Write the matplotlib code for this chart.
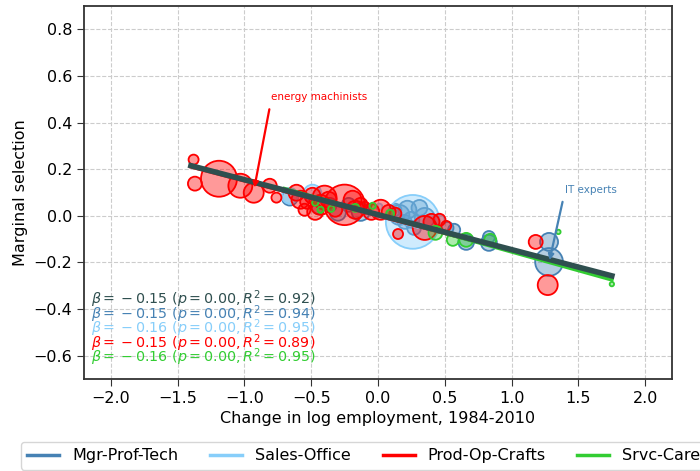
import matplotlib
matplotlib.use("Agg")
import matplotlib.pyplot as plt
import numpy as np

# occupation groups: change in log employment (x), marginal selection (y), size
groups = ['Mgr-Prof-Tech', 'Sales-Office', 'Prod-Op-Crafts', 'Srvc-Care']
colors = ['steelblue', 'lightskyblue', 'red', 'limegreen']

mgr_x = [-0.66, -0.45, -0.36, -0.30, -0.22, -0.13, 0.16, 0.22, 0.25, 0.31, 0.35,
         0.27, 0.20, 0.13, 0.52, 0.57, 0.66, 0.83, 0.83, 1.28, 1.28]
mgr_y = [0.078, 0.034, 0.047, 0.013, 0.047, 0.017, 0.004, 0.026, -0.017, 0.034,
         -0.009, -0.052, -0.026, 0.026, -0.052, -0.060, -0.112, -0.091, -0.116,
         -0.112, -0.198]
mgr_s = [130, 75, 100, 130, 100, 168, 207, 168, 130, 130, 207, 100, 100, 75,
         75, 75, 130, 75, 132, 168, 400]

sales_x = [-0.66, -0.49, 0.01, 0.26, 0.46]
sales_y = [0.086, 0.095, 0.039, -0.026, -0.017]
sales_s = [130, 168, 20, 1500, 52]

prod_x = [-1.38, -1.37, -1.19, -1.03, -0.93, -0.81, -0.76, -0.61, -0.58, -0.53,
          -0.49, -0.43, -0.37, -0.32, -0.25, -0.17, -0.13, -0.10, -0.05, 0.02,
          0.08, 0.13, 0.15, 0.35, 0.40, 0.46, 0.51, 1.18, 1.27, -0.55, -0.47,
          -0.40, -0.19]
prod_y = [0.241, 0.138, 0.159, 0.129, 0.099, 0.129, 0.078, 0.099, 0.069, 0.060,
          0.086, 0.047, 0.069, 0.026, 0.047, 0.026, 0.047, 0.034, 0.017, 0.026,
          0.017, 0.009, -0.078, -0.052, -0.026, -0.017, -0.043, -0.112, -0.297,
          0.026, 0.017, 0.078, 0.069]
prod_s = [52, 101, 671, 298, 207, 101, 52, 132, 168, 101, 132, 207, 132, 101,
          850, 168, 101, 75, 132, 207, 101, 75, 52, 298, 132, 75, 52, 101, 207,
          75, 132, 298, 168]

srvc_x = [-0.43, -0.35, -0.47, -0.17, -0.04, 0.09, 0.43, 0.56, 0.66, 0.84, 1.35,
          1.75]
srvc_y = [0.026, 0.030, 0.056, 0.034, 0.043, 0.009, -0.073, -0.103, -0.103,
          -0.103, -0.069, -0.293]
srvc_s = [20, 20, 20, 33, 20, 33, 100, 75, 100, 75, 10, 10]

# regression fits (slope, intercept, x range)
fit_slope = [-0.15, -0.16, -0.15, -0.16]
fit_icpt = [0.0, 0.0, 0.0, 0.005]
fit_lo = [-0.7, -0.7, -1.4, -0.7]
fit_hi = [1.3, 0.3, 1.3, 1.75]
pooled_slope, pooled_icpt, pooled_lo, pooled_hi = -0.15, 0.005, -1.4, 1.75

betas = ['0.15', '0.15', '0.16', '0.15', '0.16']
r2s = ['0.92', '0.94', '0.95', '0.89', '0.95']
stat_colors = ['darkslategray', 'steelblue', 'lightskyblue', 'red', 'limegreen']

xs = [mgr_x, sales_x, prod_x, srvc_x]
ys = [mgr_y, sales_y, prod_y, srvc_y]
ss = [mgr_s, sales_s, prod_s, srvc_s]

fig = plt.figure(figsize=(7, 4.71), dpi=100)
ax = fig.add_axes([0.12, 0.1953, 0.84, 0.792])

for x, y, s, c in zip(xs, ys, ss, colors):
    ax.scatter(x, y, s=s, facecolor=matplotlib.colors.to_rgba(c, 0.4),
               edgecolor=c, linewidth=1.3, zorder=2)

handles = []
for i, c in enumerate(colors):
    lx = np.array([fit_lo[i], fit_hi[i]])
    h, = ax.plot(lx, fit_icpt[i] + fit_slope[i] * lx, color=c, lw=2.5, zorder=3,
                 label=groups[i])
    handles.append(h)
px = np.array([pooled_lo, pooled_hi])
ax.plot(px, pooled_icpt + pooled_slope * px, color='darkslategray', lw=4, zorder=4)

ax.text(-0.80, 0.496, 'energy machinists', color='red', fontsize=7.5)
ax.annotate('', xy=(-0.925, 0.121), xytext=(-0.813, 0.457),
            arrowprops=dict(arrowstyle='-|>', color='red', lw=1.6,
                            mutation_scale=8, shrinkA=0, shrinkB=0), zorder=5)
ax.text(1.396, 0.099, 'IT experts', color='steelblue', fontsize=7.5)
ax.annotate('', xy=(1.284, -0.190), xytext=(1.381, 0.060),
            arrowprops=dict(arrowstyle='-|>', color='steelblue', lw=1.6,
                            mutation_scale=8, shrinkA=0, shrinkB=0), zorder=5)

for i, (b, r2, c) in enumerate(zip(betas, r2s, stat_colors)):
    t = '$\\beta = {} - ' + b + '\\ (p = 0.00, R^2 = ' + r2 + ')$'
    ax.text(-2.15, -0.358 - 0.0625 * i, t, color=c, fontsize=10.3, va='center')

ax.set_xlim(-2.2, 2.2)
ax.set_ylim(-0.7, 0.9)
ax.set_xticks(np.arange(-2.0, 2.01, 0.5))
ax.set_yticks(np.arange(-0.6, 0.81, 0.2))
ax.grid(True, linestyle='--', color='#cccccc', lw=0.8)
ax.set_axisbelow(True)
for sp in ax.spines.values():
    sp.set_color('#333333')
    sp.set_linewidth(1.3)
ax.tick_params(labelsize=11.5, direction='out', length=5, color='#333333')
ax.set_xlabel('Change in log employment, 1984-2010', fontsize=11.5)
ax.set_ylabel('Marginal selection', fontsize=11.5)

fig.legend(handles=handles, loc='upper left', bbox_to_anchor=(0.03, 0.062),
           ncol=4, borderaxespad=0, fontsize=11.5, columnspacing=2.0)

fig.savefig('out.png', dpi=100)
